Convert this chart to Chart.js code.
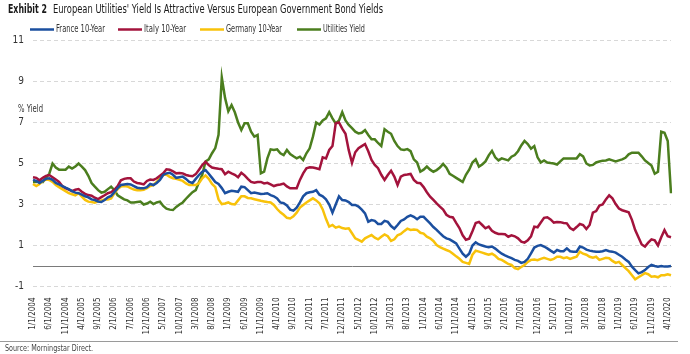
<!DOCTYPE html>
<html>
<head>
<meta charset="utf-8">
<script src="https://cdn.jsdelivr.net/npm/chart.js@4"></script>
<style>
  html, body { margin: 0; padding: 0; background: #fff; }
  canvas { display: block; }
</style>
</head>
<body>
<canvas id="yieldChart" width="690" height="354"></canvas>
<script>
// Monthly observations, Jan 2004 .. May 2020 (one row per year)
const FONT = "'Liberation Sans Narrow', 'DejaVu Sans Condensed', 'Roboto', sans-serif";

const startYear = 2004;
const startMonth = 1;
const pointCount = 197;

const franceYield = [
  4.2, 4.15, 4.05, 4.15, 4.25, 4.28, 4.2, 4.05, 3.98, 3.9, 3.82, 3.75,
  3.65, 3.58, 3.55, 3.48, 3.4, 3.35, 3.25, 3.22, 3.15, 3.12, 3.22, 3.35,
  3.42, 3.6, 3.8, 3.95, 3.98, 4.0, 3.98, 3.9, 3.82, 3.79, 3.79, 3.85,
  4.0, 3.95, 4.05, 4.2, 4.44, 4.52, 4.55, 4.45, 4.3, 4.33, 4.36, 4.25,
  4.1, 4.05, 4.25, 4.44, 4.6, 4.68, 4.5, 4.3, 4.1, 4.0, 3.8, 3.55,
  3.62, 3.67, 3.65, 3.62, 3.87, 3.85, 3.7, 3.55, 3.58, 3.55, 3.51, 3.52,
  3.55, 3.46, 3.4, 3.3, 3.1, 3.06, 2.95, 2.75, 2.7, 2.85, 3.1, 3.4,
  3.55, 3.6, 3.62, 3.7, 3.48, 3.4, 3.25, 3.0, 2.6, 3.0, 3.4, 3.22,
  3.2, 3.12, 2.98, 2.98, 2.9, 2.75, 2.57, 2.16, 2.24, 2.2, 2.05, 2.05,
  2.2, 2.15, 1.95, 1.82, 2.0, 2.2, 2.27, 2.4, 2.47, 2.4, 2.28, 2.4,
  2.4, 2.24, 2.08, 1.9, 1.76, 1.6, 1.45, 1.35, 1.3, 1.2, 1.1, 0.85,
  0.6, 0.45, 0.6, 1.0, 1.15, 1.05, 1.0, 0.95, 0.92, 0.95, 0.85, 0.72,
  0.6, 0.52, 0.45, 0.38, 0.3, 0.25, 0.15, 0.2, 0.35, 0.62, 0.9, 0.98,
  1.02, 0.95, 0.86, 0.75, 0.65, 0.78, 0.72, 0.72, 0.86, 0.72, 0.7, 0.7,
  0.95, 0.9, 0.8, 0.75, 0.72, 0.7, 0.7, 0.72, 0.78, 0.72, 0.7, 0.65,
  0.55, 0.45, 0.32, 0.2, -0.03, -0.2, -0.36, -0.3, -0.2, -0.05, 0.05, 0.0,
  -0.03, 0.0, -0.03, -0.02, 0.0
];

const italyYield = [
  4.33, 4.3, 4.18, 4.3, 4.4, 4.44, 4.33, 4.22, 4.1, 3.9, 3.8, 3.72,
  3.65, 3.72, 3.75, 3.62, 3.52, 3.46, 3.43, 3.33, 3.26, 3.36, 3.45, 3.55,
  3.6, 3.72, 3.9, 4.18, 4.25, 4.28, 4.28, 4.12, 4.05, 4.02, 3.98, 4.15,
  4.22, 4.2, 4.28, 4.4, 4.52, 4.72, 4.7, 4.62, 4.52, 4.54, 4.52, 4.44,
  4.4, 4.38, 4.48, 4.7, 4.92, 5.08, 4.92, 4.8, 4.77, 4.74, 4.72, 4.48,
  4.6, 4.52, 4.45, 4.33, 4.55, 4.42, 4.25, 4.1, 4.06, 4.1, 4.1, 4.03,
  4.06, 3.98, 3.9, 3.95, 3.98, 4.02, 3.88, 3.79, 3.79, 3.79, 4.2, 4.52,
  4.77, 4.82, 4.8, 4.77, 4.72, 5.3, 5.25, 5.66, 5.85, 6.96, 7.0, 6.7,
  6.45, 5.65, 5.03, 5.55, 5.75, 5.85, 5.95, 5.6, 5.17, 4.93, 4.77, 4.45,
  4.2, 4.44, 4.65, 4.36, 3.95, 4.36, 4.44, 4.46, 4.49, 4.2, 4.06, 4.04,
  3.85, 3.6, 3.38, 3.22, 3.05, 2.9, 2.75, 2.5, 2.4, 2.37, 2.1, 1.85,
  1.5, 1.28, 1.33, 1.7, 2.1, 2.15, 2.0, 1.84, 1.92, 1.72, 1.62, 1.56,
  1.56, 1.55, 1.43, 1.5, 1.45, 1.35, 1.19, 1.14, 1.25, 1.45, 1.92, 1.89,
  2.12, 2.35, 2.38, 2.27, 2.12, 2.15, 2.14, 2.1, 2.08, 1.85, 1.76, 1.9,
  2.05, 2.0, 1.8, 2.0, 2.6, 2.68, 2.95, 3.0, 3.25, 3.45, 3.3, 3.02,
  2.8, 2.72, 2.67, 2.62, 2.25, 1.75, 1.4, 1.05, 0.95, 1.14, 1.3, 1.25,
  1.0, 1.4, 1.75, 1.45, 1.4
];

const germanyYield = [
  4.0, 3.9, 4.0, 4.15, 4.22, 4.2, 4.1, 3.95, 3.85, 3.75, 3.65, 3.55,
  3.5, 3.45, 3.55, 3.38, 3.22, 3.14, 3.12, 3.09, 3.15, 3.2, 3.25, 3.25,
  3.3, 3.55, 3.75, 3.88, 3.9, 3.88, 3.8, 3.73, 3.7, 3.7, 3.72, 3.8,
  3.9, 3.95, 4.1, 4.3, 4.45, 4.45, 4.35, 4.28, 4.25, 4.2, 4.15, 4.03,
  3.95, 3.95, 3.95, 4.05, 4.28, 4.42, 4.25, 4.0, 3.85, 3.25, 3.02, 3.05,
  3.1, 3.02, 3.0, 3.2, 3.4, 3.4, 3.32, 3.3, 3.26, 3.22, 3.18, 3.15,
  3.12, 3.1, 2.98, 2.78, 2.62, 2.5, 2.35, 2.32, 2.42, 2.6, 2.85, 2.98,
  3.1, 3.2, 3.3, 3.2, 3.06, 2.76, 2.3, 1.92, 2.0, 1.87, 1.92, 1.85,
  1.82, 1.84, 1.6, 1.35, 1.27, 1.19, 1.35, 1.43, 1.51, 1.38, 1.3, 1.43,
  1.54, 1.45, 1.22, 1.3, 1.5, 1.56, 1.7, 1.82, 1.76, 1.78, 1.76, 1.62,
  1.58, 1.43, 1.35, 1.22, 1.02, 0.92, 0.85, 0.78, 0.72, 0.6, 0.47, 0.35,
  0.2, 0.15, 0.1, 0.55, 0.75, 0.7, 0.65, 0.6, 0.55, 0.6, 0.5, 0.35,
  0.3, 0.2, 0.1, 0.05, -0.1, -0.15, -0.05, 0.05, 0.2, 0.3, 0.32, 0.28,
  0.35, 0.4, 0.35, 0.3, 0.35, 0.45, 0.45, 0.38, 0.42, 0.35, 0.4, 0.45,
  0.7, 0.6, 0.55, 0.45, 0.4, 0.45, 0.3, 0.35, 0.4, 0.38, 0.25, 0.15,
  0.2, 0.05, -0.1, -0.25, -0.45, -0.65, -0.55, -0.45, -0.35, -0.4, -0.52, -0.5,
  -0.55, -0.45, -0.45, -0.4, -0.45
];

const utilitiesYield = [
  4.1, 4.1, 4.15, 4.1, 4.3, 4.5, 5.0, 4.8, 4.7, 4.7, 4.7, 4.85,
  4.75, 4.85, 5.0, 4.85, 4.68, 4.4, 4.05, 3.87, 3.7, 3.58, 3.62, 3.75,
  3.87, 3.7, 3.45, 3.35, 3.25, 3.2, 3.1, 3.1, 3.12, 3.14, 3.0, 3.05,
  3.14, 3.02, 3.1, 3.14, 2.93, 2.8, 2.75, 2.73, 2.88, 3.0, 3.1, 3.28,
  3.45, 3.6, 3.7, 4.1, 4.45, 5.1, 5.2, 5.5, 5.75, 6.4, 9.2, 8.2,
  7.55, 7.85, 7.5, 7.0, 6.63, 6.96, 6.96, 6.55, 6.31, 6.39, 4.52, 4.6,
  5.25, 5.69, 5.66, 5.69, 5.5, 5.41, 5.66, 5.46, 5.35, 5.25, 5.33, 5.17,
  5.5, 5.74, 6.31, 7.0, 6.9, 7.1, 7.2, 7.5, 7.2, 6.95, 7.1, 7.5,
  7.1, 6.88, 6.72, 6.55, 6.47, 6.5, 6.63, 6.39, 6.18, 6.18, 6.0, 5.85,
  6.67, 6.55, 6.45, 6.1, 5.85, 5.69, 5.66, 5.7, 5.6, 5.2, 5.05, 4.6,
  4.7, 4.85, 4.7, 4.6, 4.68, 4.8, 4.98, 4.8, 4.5, 4.4, 4.3, 4.2,
  4.1, 4.45, 4.7, 5.05, 5.2, 4.85, 4.95, 5.1, 5.4, 5.62, 5.3, 5.15,
  5.25, 5.2, 5.15, 5.33, 5.41, 5.6, 5.88, 6.1, 5.95, 5.72, 5.85, 5.3,
  5.05, 5.15, 5.05, 5.02, 5.0, 4.95, 5.1, 5.25, 5.25, 5.25, 5.25, 5.25,
  5.45, 5.35, 5.0, 4.9, 4.93, 5.05, 5.1, 5.14, 5.15, 5.2, 5.15, 5.1,
  5.15, 5.2, 5.28, 5.45, 5.53, 5.53, 5.53, 5.35, 5.15, 5.02, 4.9, 4.5,
  4.6, 6.55, 6.5, 6.1, 3.55
];

const seriesNames = ['France 10-Year', 'Italy 10-Year', 'Germany 10-Year', 'Utilities Yield'];
const seriesColors = ['#1b4f9f', '#a3133c', '#f8c20a', '#4b7e1e'];
const yTicks = [-1, 1, 3, 5, 7, 9, 11];
const labelEvery = 5;

// month labels like 1/1/2004
const monthLabels = [];
for (let i = 0; i < pointCount; i++) {
  const m = (startMonth - 1 + i) % 12 + 1;
  const y = startYear + Math.floor((startMonth - 1 + i) / 12);
  monthLabels.push(m + '/1/' + y);
}

// draw text squeezed horizontally to a given width (stands in for a condensed face)
function fitText(ctx, text, x, y, width) {
  const w = ctx.measureText(text).width;
  ctx.save();
  ctx.translate(x, y);
  ctx.scale(width / w, 1);
  ctx.fillText(text, 0, 0);
  ctx.restore();
}

// legend: [line start, text start, text width]
const legendSlots = [[30, 56, 49], [118, 144, 42], [200, 226, 56], [297, 323, 42]];

// --- extra drawing: title, legend, zero line, source ---
const decorPlugin = {
  id: 'decor',
  beforeDatasetsDraw(chart) {
    const { ctx, chartArea } = chart;
    const y0 = chart.scales.y.getPixelForValue(0);
    ctx.save();
    ctx.strokeStyle = '#7a7a7a';
    ctx.lineWidth = 1;
    ctx.beginPath();
    ctx.moveTo(chartArea.left, Math.round(y0) + 0.5);
    ctx.lineTo(chartArea.right + 1, Math.round(y0) + 0.5);
    ctx.stroke();
    ctx.restore();
  },
  afterDraw(chart) {
    const ctx = chart.ctx;
    ctx.save();
    ctx.fillStyle = '#1a1a1a';
    ctx.textBaseline = 'alphabetic';

    // title
    ctx.font = 'bold 12.5px ' + FONT;
    fitText(ctx, 'Exhibit 2', 8, 13, 39);
    ctx.font = '12.5px ' + FONT;
    fitText(ctx, "European Utilities' Yield Is Attractive Versus European Government Bond Yields", 53, 13, 330);

    // legend
    ctx.font = '10px ' + FONT;
    ctx.textBaseline = 'middle';
    seriesNames.forEach((name, i) => {
      const [lx, tx, tw] = legendSlots[i];
      ctx.strokeStyle = seriesColors[i];
      ctx.lineWidth = 2.5;
      ctx.beginPath();
      ctx.moveTo(lx, 29.5);
      ctx.lineTo(lx + 24, 29.5);
      ctx.stroke();
      ctx.fillStyle = '#333';
      fitText(ctx, name, tx, 29.5, tw);
    });

    // axis caption
    ctx.font = '10px ' + FONT;
    fitText(ctx, '% Yield', 18, 109.5, 25);

    // footer rule + source
    ctx.strokeStyle = '#9a9a9a';
    ctx.lineWidth = 1;
    ctx.beginPath();
    ctx.moveTo(0, 341.5);
    ctx.lineTo(678, 341.5);
    ctx.stroke();
    ctx.font = '9.5px ' + FONT;
    ctx.fillStyle = '#444';
    fitText(ctx, 'Source: Morningstar Direct.', 5, 348.5, 88);
    ctx.restore();
  }
};

const seriesData = [franceYield, italyYield, germanyYield, utilitiesYield];

new Chart(document.getElementById('yieldChart'), {
  type: 'line',
  data: {
    labels: monthLabels,
    datasets: seriesNames.map((name, i) => ({
      label: name,
      data: seriesData[i],
      borderColor: seriesColors[i],
      backgroundColor: seriesColors[i],
      borderWidth: 2.5,
      pointRadius: 0,
      tension: 0,
      fill: false
    }))
  },
  options: {
    responsive: false,
    animation: false,
    layout: { padding: { top: 40.5, right: 19, left: 0, bottom: 0 } },
    plugins: {
      legend: { display: false },
      tooltip: { enabled: false }
    },
    scales: {
      x: {
        type: 'category',
        offset: false,
        grid: { display: false },
        border: { display: false },
        ticks: {
          autoSkip: false,
          minRotation: 90,
          maxRotation: 90,
          padding: 3,
          color: '#333',
          font: { family: FONT, size: 8 },
          callback: function (val, idx) {
            return idx % labelEvery === 0 ? monthLabels[idx] : null;
          }
        },
        afterFit: function (scale) { scale.height = 67.5; }
      },
      y: {
        min: -1,
        max: 11,
        afterBuildTicks: function (scale) {
          scale.ticks = yTicks.map(v => ({ value: v }));
        },
        grid: { color: '#d8d8d8', drawTicks: false, lineWidth: 1 },
        border: { display: false, dash: [4, 3] },
        ticks: {
          padding: 9,
          color: '#333',
          font: { family: FONT, size: 10 }
        },
        afterFit: function (scale) { scale.width = 33; }
      }
    }
  },
  plugins: [decorPlugin]
});
</script>
</body>
</html>
